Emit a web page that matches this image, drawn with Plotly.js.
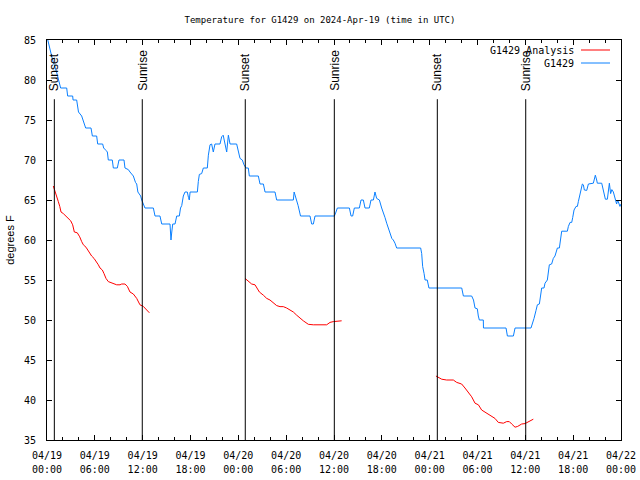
<!DOCTYPE html>
<html>
<head>
<meta charset="utf-8">
<script src="https://cdn.plot.ly/plotly-3.0.1.min.js"></script>
<style>html,body{margin:0;padding:0;background:#fff;}#chart{width:640px;height:480px;}</style>
</head>
<body>
<div id="chart"></div>
<script>
// ---- data (hours after 2024-04-19 00:00 UTC) ----
const blueHours = [0.1,0.7,1.2,1.5,1.71,2.47,2.59,3.22,3.27,3.72,3.8,3.95,4.35,4.5,4.85,5.52,5.69,6.23,6.36,6.98,7.11,7.4,7.57,7.69,8.19,8.32,8.82,9.03,9.66,9.78,10.2,10.41,10.83,11.1,11.25,11.4,11.75,11.88,12.1,12.29,13.34,13.55,14.17,14.39,15.43,15.5,15.55,15.65,15.77,16.06,16.27,16.6,16.75,16.9,17.1,17.31,17.6,17.75,17.85,17.95,18.15,18.86,18.98,19.11,19.4,19.61,20.11,20.24,20.45,20.65,20.86,21.07,21.7,21.91,22.1,22.33,22.54,22.75,22.96,23.79,24.0,24.21,24.5,24.71,24.96,25.25,25.38,26.51,26.72,27.14,27.35,28.6,28.81,30.9,31.0,31.3,31.5,31.8,32.99,33.2,33.41,33.62,36.05,36.25,36.42,37.93,38.14,38.34,38.55,39.18,39.39,39.68,39.89,40.43,40.64,40.94,41.14,41.35,41.69,41.98,42.19,42.4,42.61,42.8,43.03,43.25,43.44,43.65,43.86,46.87,47.0,47.12,47.3,47.42,47.7,47.91,52.02,52.23,53.27,53.5,53.69,53.98,54.1,54.23,54.73,54.75,57.58,57.65,57.75,58.5,58.71,60.71,60.92,61.09,61.34,61.51,61.76,61.93,62.05,62.34,62.47,62.76,62.89,63.01,63.3,63.51,63.72,63.85,64.02,64.27,64.43,64.56,65.27,65.4,65.61,65.82,65.94,66.11,66.36,66.53,66.65,66.78,66.99,67.15,67.28,67.4,67.7,67.91,68.53,68.62,68.78,68.95,69.03,69.58,69.7,69.87,70.04,70.29,70.41,70.54,70.7,70.85,71.04,71.2,71.33,71.45,71.58,71.75,71.87,72];
const blueTemps = [85,82.5,81,80,79,79,78,78,77.5,77.5,77,76,75.5,75,74,74,73,73,72,72,71.5,71.2,71,70,70,69,69,70,70,69,68.8,68.5,68,67.2,67,66,65.5,65,64.5,64,64,63,63,62,62,60.5,60,61,62,62,63,63,64,64.3,65.5,66,66,65.3,65,66,66,66,67.3,68.2,68.3,69,69,70.6,71.9,72,71,72,72,72.9,73.1,72,71,73.1,72,72,71.2,70.2,70,69.4,69,69,68,68,67,67,66,66,65,65,66,65,64.3,63,63,62,62,63,63,63.5,64,64,63,63,64,64,65,65,64,64,65,65,66,65.2,65,64,63.5,62.8,62.1,61.5,61,60.2,60,59.6,59,59,58.3,56.7,55.8,55,55,54,54,53,53,52.5,51.5,51.4,50.5,50,50,49,49,48.5,48,48,49,49,49.6,50.2,51.2,51.9,52,53.3,54,54,54.6,55,56.2,56.9,57,57.7,58,58.5,59,59,60.2,61.1,61.1,61.7,62.2,62.2,62.8,63.75,64.2,64.2,64.8,65.4,66.25,67,66.9,66.25,66.2,67,67.1,67.5,68.1,67.5,67.1,67.1,66.5,65.8,65.1,65.1,66,67.1,65.8,66.3,66,65.4,64.6,64.5,65,64.4,64.2,64.5];

const redHours = [0.79,1.0,1.2,1.42,1.6,1.76,2.05,2.47,2.8,2.97,3.22,3.43,3.8,4.1,4.35,4.56,4.89,5.1,5.39,5.6,5.9,6.2,6.44,6.65,6.94,7.15,7.4,7.69,8.11,8.74,9.16,9.37,9.78,10.08,10.41,10.83,11.25,11.66,12.08,12.42,12.84,
  null,
  24.84,25.26,25.67,26.09,26.3,26.64,27.14,27.56,27.97,28.39,28.81,29.23,29.64,30.06,30.48,30.9,31.32,31.74,32.15,32.78,33.41,35.08,35.5,35.92,36.96,
  null,
  48.79,49.09,49.51,50.13,50.97,51.39,52.01,52.43,52.85,53.27,53.69,54.11,54.52,54.94,55.36,55.78,56.19,56.61,57.03,57.24,57.66,57.99,58.29,58.71,59.04,59.54,59.96,60.38,61.0];
const redTemps = [66.75,66.0,65.4,64.8,64.2,63.5,63.3,62.9,62.5,62.4,61.9,61.0,60.9,60.4,59.8,59.4,59.1,58.75,58.3,58.0,57.7,57.3,56.9,56.5,56.25,55.8,55.2,54.8,54.6,54.4,54.4,54.5,54.5,54.2,53.5,53.25,52.7,51.9,51.7,51.3,50.9,
  null,
  55.2,54.8,54.5,54.4,54.0,53.5,53.1,52.7,52.5,52.1,51.8,51.67,51.67,51.5,51.3,51.0,50.6,50.2,49.9,49.46,49.4,49.4,49.7,49.8,49.9,
  null,
  43.0,42.8,42.6,42.5,42.5,42.2,42.0,41.5,41.0,40.4,39.6,39.4,38.75,38.5,38.2,38.0,37.7,37.2,37.1,37.1,37.3,37.3,37.0,36.6,36.7,37.0,37.05,37.3,37.6];

const eventHours = [0.92, 11.95, 24.87, 36.04, 48.96, 60.05];
const eventLabels = ["Sunset", "Sunrise", "Sunset", "Sunrise", "Sunset", "Sunrise"];

const tickHours = [0,6,12,18,24,30,36,42,48,54,60,66,72];
const tickDates = ["04/19","04/19","04/19","04/19","04/20","04/20","04/20","04/20","04/21","04/21","04/21","04/21","04/22"];
const tickTimes = ["00:00","06:00","12:00","18:00","00:00","06:00","12:00","18:00","00:00","06:00","12:00","18:00","00:00"];

const seriesNames = ["G1429 Analysis", "G1429"];
const seriesColors = ["#ff0000", "#0a80ff"];

// ---- layout helpers ----
const L = 47, R = 19, T = 40, B = 40, W = 640, H = 480;
const pw = W - L - R, ph = H - T - B;
const px2paperX = p => (p - L) / pw;
const px2paperY = p => (H - B - p) / ph;

const mono = "DejaVu Sans Mono, monospace";
const sans = "Liberation Sans, Arial, sans-serif";

const traces = [
  {x: redHours, y: redTemps, type: "scatter", mode: "lines", name: seriesNames[0],
   line: {color: seriesColors[0], width: 1}, connectgaps: false, showlegend: false, hoverinfo: "skip"},
  {x: blueHours, y: blueTemps, type: "scatter", mode: "lines", name: seriesNames[1],
   line: {color: seriesColors[1], width: 1}, showlegend: false, hoverinfo: "skip"},
  {x: [0], y: [null], xaxis: "x2", type: "scatter", mode: "lines", showlegend: false, hoverinfo: "skip"}
];

const shapes = eventHours.map(h => ({
  type: "line", xref: "x", yref: "y", x0: h, x1: h, y0: 35, y1: 77.6,
  line: {color: "#000", width: 1}
}));
const annotations = eventHours.map((h, i) => ({
  x: h, y: 78.5, xref: "x", yref: "y", text: eventLabels[i], showarrow: false,
  textangle: -90, xanchor: "center", yanchor: "bottom", borderpad: 0,
  font: {family: sans, size: 12, color: "#000"}
}));

// legend drawn manually (text left of sample line, like the original)
seriesNames.forEach((n, i) => {
  const yp = 50 + i * 13;
  annotations.push({
    xref: "paper", yref: "paper", x: px2paperX(575), y: px2paperY(yp), text: n,
    showarrow: false, xanchor: "right", yanchor: "middle", borderpad: 0,
    font: {family: mono, size: 10, color: "#000"}
  });
  shapes.push({
    type: "line", xref: "paper", yref: "paper",
    x0: px2paperX(581), x1: px2paperX(610), y0: px2paperY(yp), y1: px2paperY(yp),
    line: {color: seriesColors[i], width: 1}
  });
});

const layout = {
  width: W, height: H,
  margin: {l: L, r: R, t: T, b: B, pad: 0},
  paper_bgcolor: "#fff", plot_bgcolor: "#fff",
  showlegend: false,
  title: {text: "Temperature for G1429 on 2024-Apr-19 (time in UTC)",
          x: 0.5, xref: "container", xanchor: "center",
          y: 1 - 20 / H, yref: "container", yanchor: "middle",
          font: {family: mono, size: 9, color: "#000"}},
  xaxis: {
    range: [0, 72], tickmode: "array", tickvals: tickHours, ticktext: tickDates,
    ticks: "inside", ticklen: 5, tickcolor: "#000", tickwidth: 1,
    minor: {dtick: 2, tick0: 0, ticks: "inside", ticklen: 3, tickcolor: "#000", showgrid: false},
    showline: true, linecolor: "#000", linewidth: 1, mirror: "ticks",
    showgrid: false, zeroline: false, fixedrange: true,
    tickfont: {family: mono, size: 10, color: "#000"}, ticklabelstandoff: 6
  },
  xaxis2: {
    overlaying: "x", anchor: "y", side: "bottom",
    range: [0, 72], tickmode: "array", tickvals: tickHours, ticktext: tickTimes,
    ticks: "", showline: false, showgrid: false, zeroline: false,
    tickfont: {family: mono, size: 10, color: "#000"}, ticklabelstandoff: 22
  },
  yaxis: {
    range: [35, 85], tickmode: "array", tickvals: [35,40,45,50,55,60,65,70,75,80,85],
    ticks: "inside", ticklen: 5, tickcolor: "#000", tickwidth: 1,
    showline: true, linecolor: "#000", linewidth: 1, mirror: "ticks",
    showgrid: false, zeroline: false,
    tickfont: {family: mono, size: 10, color: "#000"}, ticklabelstandoff: 8,
    title: {text: "degrees F", font: {family: sans, size: 11, color: "#000"}, standoff: 7}
  },
  shapes: shapes,
  annotations: annotations
};

Plotly.newPlot("chart", traces, layout, {staticPlot: true, displayModeBar: false});
</script>
</body>
</html>
